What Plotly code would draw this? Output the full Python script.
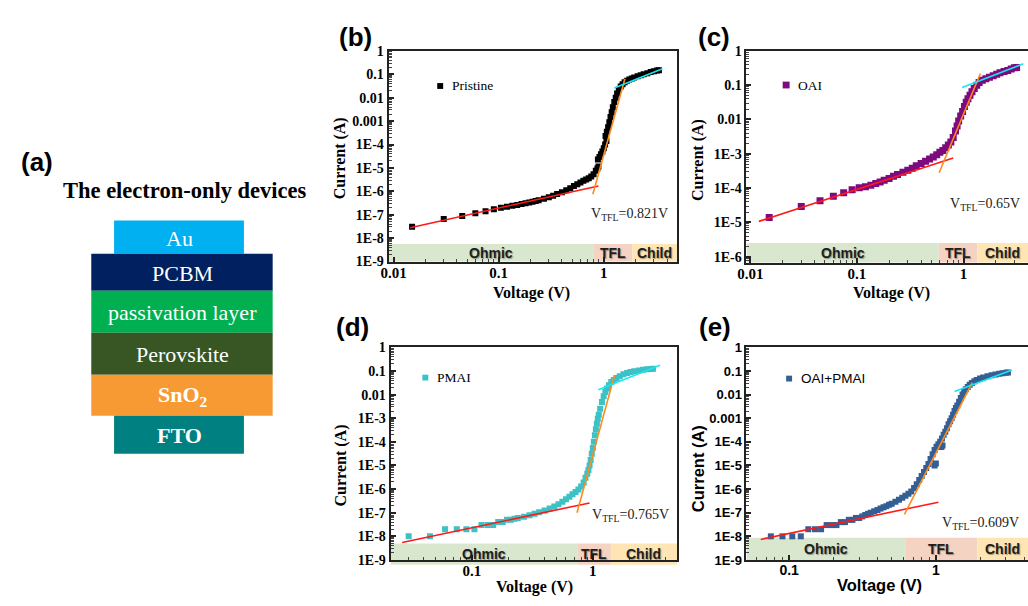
import math
import plotly.graph_objects as go

W, H = 1028, 606

# ---------------- measured J-V curves (voltage in V, current in A) ----------------
pristine_v = [0.015, 0.03, 0.045, 0.06, 0.075, 0.09, 0.105, 0.12, 0.135, 0.15, 0.165, 0.18,
              0.195, 0.21, 0.225, 0.24, 0.27, 0.30, 0.33, 0.36, 0.40, 0.44, 0.48, 0.52, 0.56,
              0.60, 0.64, 0.68, 0.72, 0.76, 0.80, 0.84, 0.87, 0.89, 0.88, 0.91, 0.94, 0.97,
              1.00, 1.03, 1.06, 1.04, 1.07, 1.10, 1.13, 1.16, 1.19, 1.22, 1.26, 1.30, 1.34,
              1.39, 1.45, 1.51, 1.58, 1.66, 1.75, 1.85, 1.95, 2.10, 2.25, 2.40, 2.60, 2.80,
              3.00, 3.20, 3.35]
pristine_i = [3.1e-8, 6.6e-8, 8.9e-8, 1.15e-7, 1.4e-7, 1.7e-7, 2.0e-7, 2.2e-7, 2.4e-7, 2.6e-7,
              2.9e-7, 3.1e-7, 3.3e-7, 3.6e-7, 3.9e-7, 4.2e-7, 4.8e-7, 5.6e-7, 6.5e-7, 7.6e-7,
              9.2e-7, 1.1e-6, 1.35e-6, 1.7e-6, 2.0e-6, 2.4e-6, 2.8e-6, 3.2e-6, 3.6e-6, 4.3e-6,
              5.4e-6, 7.6e-6, 9.5e-6, 1.15e-5, 2.3e-5, 2.9e-5, 3.8e-5, 5.0e-5, 7.0e-5, 1.0e-4,
              1.4e-4, 2.3e-4, 3.5e-4, 5.5e-4, 9.0e-4, 1.5e-3, 2.4e-3, 3.9e-3, 6.5e-3, 1.0e-2,
              1.5e-2, 2.2e-2, 3.0e-2, 3.8e-2, 4.6e-2, 5.3e-2, 6.0e-2, 6.6e-2, 7.3e-2, 8.2e-2,
              9.2e-2, 0.10, 0.11, 0.125, 0.135, 0.145, 0.15]

oai_v = [0.015, 0.03, 0.045, 0.06, 0.075, 0.09, 0.105, 0.12, 0.135, 0.15, 0.165, 0.18, 0.20,
         0.22, 0.24, 0.27, 0.30, 0.33, 0.36, 0.40, 0.44, 0.48, 0.52, 0.56, 0.60, 0.64, 0.68,
         0.72, 0.76, 0.80, 0.84, 0.87, 0.90, 0.94, 0.98, 1.02, 1.06, 1.10, 1.15, 1.20, 1.26,
         1.33, 1.40, 1.50, 1.62, 1.75, 1.90, 2.05, 2.20, 2.40, 2.60, 2.80, 3.00, 3.15]
oai_i = [1.4e-5, 2.9e-5, 4.3e-5, 5.8e-5, 7.3e-5, 8.9e-5, 1.02e-4, 1.1e-4, 1.2e-4, 1.35e-4,
         1.5e-4, 1.7e-4, 1.9e-4, 2.2e-4, 2.5e-4, 2.9e-4, 3.3e-4, 3.8e-4, 4.5e-4, 5.2e-4,
         6.1e-4, 7.1e-4, 8.0e-4, 9.3e-4, 1.1e-3, 1.25e-3, 1.5e-3, 1.8e-3, 2.2e-3, 3.0e-3,
         4.6e-3, 6.5e-3, 9.0e-3, 1.27e-2, 1.7e-2, 2.4e-2, 3.2e-2, 4.0e-2, 5.1e-2, 6.4e-2,
         8.0e-2, 0.10, 0.12, 0.14, 0.155, 0.17, 0.19, 0.21, 0.23, 0.25, 0.27, 0.295, 0.32, 0.33]

pmai_v = [0.03, 0.045, 0.06, 0.075, 0.09, 0.105, 0.12, 0.135, 0.15, 0.165, 0.18, 0.195, 0.21,
          0.225, 0.24, 0.27, 0.30, 0.33, 0.36, 0.40, 0.44, 0.48, 0.52, 0.56, 0.60, 0.64, 0.68,
          0.72, 0.76, 0.80, 0.84, 0.87, 0.90, 0.92, 0.94, 0.96, 0.98, 1.00, 1.02, 1.04, 1.06,
          1.08, 1.10, 1.12, 1.15, 1.19, 1.23, 1.27, 1.31, 1.36, 1.42, 1.49, 1.57, 1.67, 1.79,
          1.92, 2.05, 2.20, 2.40, 2.60, 2.80, 3.00, 3.15]
pmai_i = [1.0e-8, 1.0e-8, 2.0e-8, 2.0e-8, 2.0e-8, 2.0e-8, 3.0e-8, 3.0e-8, 3.0e-8, 4.0e-8,
          4.0e-8, 5.0e-8, 5.0e-8, 5.5e-8, 6.0e-8, 6.8e-8, 7.8e-8, 9.0e-8, 1.05e-7, 1.25e-7,
          1.5e-7, 1.85e-7, 2.3e-7, 2.9e-7, 3.7e-7, 4.8e-7, 6.0e-7, 7.5e-7, 9.5e-7, 1.3e-6,
          1.9e-6, 3.0e-6, 4.5e-6, 6.5e-6, 1.0e-5, 1.7e-5, 3.1e-5, 5.5e-5, 1.0e-4, 1.9e-4,
          3.4e-4, 5.8e-4, 9.5e-4, 1.4e-3, 2.5e-3, 4.9e-3, 8.5e-3, 1.3e-2, 1.8e-2, 2.5e-2,
          3.4e-2, 4.2e-2, 5.0e-2, 6.0e-2, 7.2e-2, 8.2e-2, 9.0e-2, 9.8e-2, 0.105, 0.112,
          0.117, 0.121, 0.123]

both_v = [0.075, 0.09, 0.105, 0.12, 0.135, 0.15, 0.165, 0.18, 0.195, 0.21, 0.225, 0.24,
          0.255, 0.27, 0.285, 0.30, 0.315, 0.33, 0.345, 0.36, 0.38, 0.40, 0.42, 0.44, 0.46,
          0.48, 0.50, 0.53, 0.56, 0.59, 0.62, 0.65, 0.68, 0.71, 0.74, 0.77, 0.80, 0.83, 0.86,
          0.89, 0.92, 0.95, 0.98, 1.00, 0.98, 1.01, 1.04, 1.07, 1.09, 1.11, 1.10, 1.13, 1.16,
          1.19, 1.22, 1.25, 1.28, 1.31, 1.34, 1.37, 1.40, 1.44, 1.48, 1.52, 1.56, 1.60, 1.65,
          1.70, 1.76, 1.83, 1.90, 2.00, 2.10, 2.25, 2.40, 2.55, 2.70, 2.85, 3.00, 3.10]
both_i = [1.0e-8, 1.0e-8, 1.0e-8, 1.0e-8, 2.0e-8, 2.0e-8, 2.0e-8, 3.0e-8, 3.0e-8, 3.0e-8,
          4.0e-8, 4.0e-8, 5.0e-8, 5.0e-8, 6.0e-8, 6.0e-8, 7.0e-8, 8.0e-8, 9.0e-8, 1.0e-7,
          1.15e-7, 1.3e-7, 1.5e-7, 1.7e-7, 1.9e-7, 2.15e-7, 2.4e-7, 2.9e-7, 3.5e-7, 4.3e-7,
          5.2e-7, 6.3e-7, 8.0e-7, 1.1e-6, 1.6e-6, 2.4e-6, 3.6e-6, 5.3e-6, 7.8e-6, 1.15e-5,
          1.9e-5, 3.0e-5, 1.0e-5, 1.2e-5, 4.5e-5, 6.2e-5, 8.0e-5, 1.0e-4, 6.0e-5, 7.0e-5,
          1.4e-4, 2.0e-4, 2.7e-4, 3.8e-4, 5.5e-4, 7.5e-4, 1.0e-3, 1.4e-3, 2.0e-3, 2.7e-3,
          3.5e-3, 5.0e-3, 7.2e-3, 1.0e-2, 1.35e-2, 1.7e-2, 2.1e-2, 2.6e-2, 3.1e-2, 3.7e-2,
          4.2e-2, 4.8e-2, 5.3e-2, 6.0e-2, 6.6e-2, 7.1e-2, 7.6e-2, 8.0e-2, 8.4e-2, 8.6e-2]

# ---------------- fitted segments: ohmic / trap-filling / Child (V pairs, I pairs) ----------------
ohm_fit_v = {"b": [0.0144, 0.89], "c": [0.012, 0.80], "d": [0.0265, 0.94], "e": [0.064, 1.04]}
ohm_fit_i = {"b": [2.8e-8, 1.7e-6], "c": [1.07e-5, 7.5e-4], "d": [5.5e-9, 2.6e-7], "e": [7.4e-9, 2.8e-7]}
tfl_fit_v = {"b": [0.787, 1.59], "c": [0.59, 1.44], "d": [0.74, 1.51], "e": [0.61, 1.77]}
tfl_fit_i = {"b": [7.5e-7, 0.064], "c": [2.8e-4, 0.22], "d": [1.0e-7, 0.065], "e": [8.5e-8, 0.032]}
child_fit_v = {"b": [1.26, 3.62], "c": [0.97, 3.64], "d": [1.11, 3.59], "e": [1.34, 3.30]}
child_fit_i = {"b": [0.026, 0.174], "c": [0.085, 0.42], "d": [0.016, 0.175], "e": [0.0134, 0.109]}

# regime boundaries (V) and trap-filled-limit voltages
regime_bounds = {"b": [0.805, 1.88], "c": [0.585, 1.35], "d": [0.753, 1.41], "e": [0.618, 1.92]}
vtfl_text = {"b": "0.821V", "c": "0.65V", "d": "0.765V", "e": "0.609V"}
sample_names = {"b": "Pristine", "c": "OAI", "d": "PMAI", "e": "OAI+PMAI"}

# tick labels
x_ticks_wide = [0.01, 0.1, 1]
x_ticks_narrow = [0.1, 1]
y_ticks9 = [1, 0.1, 0.01, 0.001, 1e-4, 1e-5, 1e-6, 1e-7, 1e-8, 1e-9]
y_text_b = ["1", "0.1", "0.01", "0.001", "1E-4", "1E-5", "1E-6", "1E-7", "1E-8", "1E-9"]
y_text_d = ["1", "0.1", "0.01", "1E-3", "1E-4", "1E-5", "1E-6", "1E-7", "1E-8", "1E-9"]
y_ticks6 = [1, 0.1, 0.01, 1e-3, 1e-4, 1e-5, 1e-6]
y_text_c = ["1", "0.1", "0.01", "1E-3", "1E-4", "1E-5", "1E-6"]

# device stack for panel (a): name, fill colour, bold
stack_layers = [("Au", "#00b0f0", False), ("PCBM", "#002060", False),
                ("passivation layer", "#00b050", False), ("Perovskite", "#375623", False),
                ("SnO<sub>2</sub>", "#f79a34", True), ("FTO", "#008080", True)]

SERIF = "Liberation Serif"
SANS = "Liberation Sans"


def fx(p):
    return p / W


def fy(p):
    return 1 - p / H


def minor_vals(lo, hi):
    out = []
    for k in range(lo, hi + 1):
        for m in range(2, 10):
            out.append(m * 10.0 ** k)
    return out


panels = [
    dict(key="b", xa="x", ya="y", xdom=(383, 674), ydom=(45, 261), xr=(-2.047, 0.698), yr=(-9, 0),
         xt=x_ticks_wide, xtt=["0.01", "0.1", "1"], yt=y_ticks9, ytt=y_text_b, fam=SERIF,
         ysize=14, xsize=15, tt=16,
         right=True, v=pristine_v, i=pristine_i, color="#000000", ms=6, band=(0, 0.083),
         label=(350, 31), leg=(435, 81), vt=(626, 213), yttl=(334, 155), xttl=(527, 293), legfam=SERIF),
    dict(key="c", xa="x2", ya="y2", xdom=(744, 1028), ydom=(45, 262), xr=(-2.037, 0.605), yr=(-6.17, 0),
         xt=x_ticks_wide, xtt=["0.01", "0.1", "1"], yt=y_ticks6, ytt=y_text_c, fam=SERIF,
         ysize=14, xsize=15, tt=16,
         right=False, v=oai_v, i=oai_i, color="#7d0b7d", ms=7, band=(0, 0.092),
         label=(711, 31), leg=(784, 80), vt=(985, 203), yttl=(695, 157), xttl=(890, 293), legfam=SERIF),
    dict(key="d", xa="x3", ya="y3", xdom=(385, 674), ydom=(349, 567), xr=(-1.672, 0.697), yr=(-9, 0),
         xt=x_ticks_narrow, xtt=["0.1", "1"], yt=y_ticks9, ytt=y_text_d, fam=SERIF,
         ysize=14, xsize=15, tt=16,
         right=True, v=pmai_v, i=pmai_i, color="#3cc2c5", ms=6, band=(-0.023, 0.078),
         label=(347, 328), leg=(420, 380), vt=(627, 521), yttl=(335, 470), xttl=(530, 595), legfam=SERIF),
    dict(key="e", xa="x4", ya="y4", xdom=(744, 1028), ydom=(349, 567), xr=(-1.291, 0.628), yr=(-9, 0),
         xt=x_ticks_narrow, xtt=["0.1", "1"], yt=y_ticks9, ytt=y_text_b, fam=SANS,
         ysize=13, xsize=14, tt=16.5,
         right=False, v=both_v, i=both_i, color="#335f95", ms=6, band=(0, 0.105),
         label=(712, 328), leg=(787, 381), vt=(980, 530), yttl=(695, 473), xttl=(878, 593), legfam=SANS),
]

fig = go.Figure()
shapes = []
annotations = []
layout_axes = {}

REGION_COLORS = ["#d8e7ce", "#f5d3c3", "#fde6b3"]
REGION_NAMES = ["Ohmic", "TFL", "Child"]

for p in panels:
    k = p["key"]
    xa, ya = p["xa"], p["ya"]
    xname = "xaxis" + xa[1:]
    yname = "yaxis" + ya[1:]
    layout_axes[xname] = dict(
        type="log", domain=[fx(p["xdom"][0]), fx(p["xdom"][1])], range=list(p["xr"]), anchor=ya,
        tickmode="array", tickvals=p["xt"], ticktext=p["xtt"], ticks="inside", ticklen=5,
        tickwidth=1.5, tickcolor="#222", showline=True, linecolor="#222", linewidth=2,
        mirror=True, showgrid=False, zeroline=False, ticklabelstandoff=-4,
        tickfont=dict(family=p["fam"], size=p["xsize"], color="black", weight="bold"),
        minor=dict(ticks="inside", ticklen=3, tickwidth=1, tickcolor="#444",
                   tickmode="array", tickvals=minor_vals(-3, 1), showgrid=False),
    )
    layout_axes[yname] = dict(
        type="log", domain=[fy(p["ydom"][1]), fy(p["ydom"][0])], range=list(p["yr"]), anchor=xa,
        tickmode="array", tickvals=p["yt"], ticktext=p["ytt"], ticks="inside", ticklen=5,
        tickwidth=1.5, tickcolor="#222", showline=True, linecolor="#222", linewidth=2,
        mirror=p["right"], showgrid=False, zeroline=False,
        tickfont=dict(family=p["fam"], size=p["ysize"], color="black", weight="bold"),
        minor=dict(ticks="inside", ticklen=3, tickwidth=1, tickcolor="#444",
                   tickmode="array", tickvals=minor_vals(-10, 0), showgrid=False),
    )

    # regime bands along the bottom of the plot
    lo = 10 ** p["xr"][0]
    hi = 10 ** p["xr"][1]
    edges = [lo] + regime_bounds[k] + [hi]
    for j in range(3):
        shapes.append(dict(type="rect", xref=xa, yref=ya + " domain", x0=edges[j], x1=edges[j + 1],
                           y0=p["band"][0], y1=p["band"][1], fillcolor=REGION_COLORS[j],
                           line=dict(width=0), layer="below"))
        cx = (math.log10(edges[j]) + math.log10(edges[j + 1])) / 2
        annotations.append(dict(x=cx, y=(p["band"][0] + p["band"][1]) / 2, xref=xa,
                                yref=ya + " domain", text=REGION_NAMES[j], showarrow=False,
                                xanchor="center", yanchor="middle",
                                font=dict(family=SANS, size=14, color="#1e1e1e", weight="bold",
                                          shadow="1px 1px 1px rgba(0,0,0,0.35)")))

    # measured data
    fig.add_trace(go.Scatter(x=p["v"], y=p["i"], mode="markers", xaxis=xa, yaxis=ya,
                             marker=dict(symbol="square", size=p["ms"], color=p["color"],
                                         line=dict(width=0)),
                             showlegend=False, name=sample_names[k]))
    # fitted lines
    for fv, fi, col in ((ohm_fit_v, ohm_fit_i, "#ff1a1a"), (tfl_fit_v, tfl_fit_i, "#ff8a1c"),
                        (child_fit_v, child_fit_i, "#19e6f2")):
        fig.add_trace(go.Scatter(x=fv[k], y=fi[k], mode="lines", xaxis=xa, yaxis=ya,
                                 line=dict(color=col, width=1.6), showlegend=False, hoverinfo="skip"))

    # legend key
    lx, ly = p["leg"]
    half = p["ms"] / 2
    shapes.append(dict(type="rect", xref="paper", yref="paper", x0=fx(lx - half), x1=fx(lx + half),
                       y0=fy(ly + half), y1=fy(ly - half), fillcolor=p["color"], line=dict(width=0)))
    annotations.append(dict(x=fx(lx + 10), y=fy(ly), xref="paper", yref="paper",
                            text=sample_names[k], showarrow=False, xanchor="left", yanchor="middle",
                            font=dict(family=p["legfam"], size=13.5, color="black")))

    # V_TFL value
    annotations.append(dict(x=fx(p["vt"][0]), y=fy(p["vt"][1]), xref="paper", yref="paper",
                            text="V<sub>TFL</sub>=" + vtfl_text[k], showarrow=False,
                            xanchor="center", yanchor="middle",
                            font=dict(family=SERIF, size=14, color="#222")))

    # axis titles
    annotations.append(dict(x=fx(p["yttl"][0]), y=fy(p["yttl"][1]), xref="paper", yref="paper",
                            text="Current (A)", textangle=-90, showarrow=False,
                            xanchor="center", yanchor="middle",
                            font=dict(family=p["fam"], size=p["tt"], color="black", weight="bold")))
    annotations.append(dict(x=fx(p["xttl"][0]), y=fy(p["xttl"][1]), xref="paper", yref="paper",
                            text="Voltage (V)", showarrow=False, xanchor="center", yanchor="middle",
                            font=dict(family=p["fam"], size=p["tt"], color="black", weight="bold")))

    # panel letter
    annotations.append(dict(x=fx(p["label"][0]), y=fy(p["label"][1]), xref="paper", yref="paper",
                            text="(" + k + ")", showarrow=False, xanchor="center", yanchor="middle",
                            font=dict(family=SANS, size=26, color="black", weight="bold")))

# ---------------- panel (a): electron-only device stack ----------------
annotations.append(dict(x=fx(28), y=fy(159), xref="paper", yref="paper", text="(a)", showarrow=False,
                        xanchor="center", yanchor="middle",
                        font=dict(family=SANS, size=26, color="black", weight="bold")))
annotations.append(dict(x=fx(178), y=fy(188), xref="paper", yref="paper",
                        text="The electron-only devices", showarrow=False,
                        xanchor="center", yanchor="middle",
                        font=dict(family=SERIF, size=22.5, color="black", weight="bold")))

stack_rows = [(219, 253, 106, 237), (253, 291, 83, 266), (291, 334, 83, 266),
              (334, 377, 83, 266), (377, 419, 83, 266), (419, 458, 106, 237)]
for (name, col, bold), (top, bot, left, right) in zip(stack_layers, stack_rows):
    shapes.append(dict(type="rect", xref="paper", yref="paper", x0=fx(left), x1=fx(right),
                       y0=fy(bot), y1=fy(top), fillcolor=col, line=dict(width=0)))
    annotations.append(dict(x=fx((left + right) / 2 + 1), y=fy((top + bot) / 2 + 1), xref="paper",
                            yref="paper", text=name, showarrow=False, xanchor="center",
                            yanchor="middle",
                            font=dict(family=SERIF, size=22, color="white",
                                      weight="bold" if bold else "normal")))

fig.update_layout(
    width=W, height=H, margin=dict(l=0, r=0, t=0, b=0),
    paper_bgcolor="white", plot_bgcolor="white",
    shapes=shapes, annotations=annotations, showlegend=False,
    **layout_axes,
)

fig.write_html("out.html")
